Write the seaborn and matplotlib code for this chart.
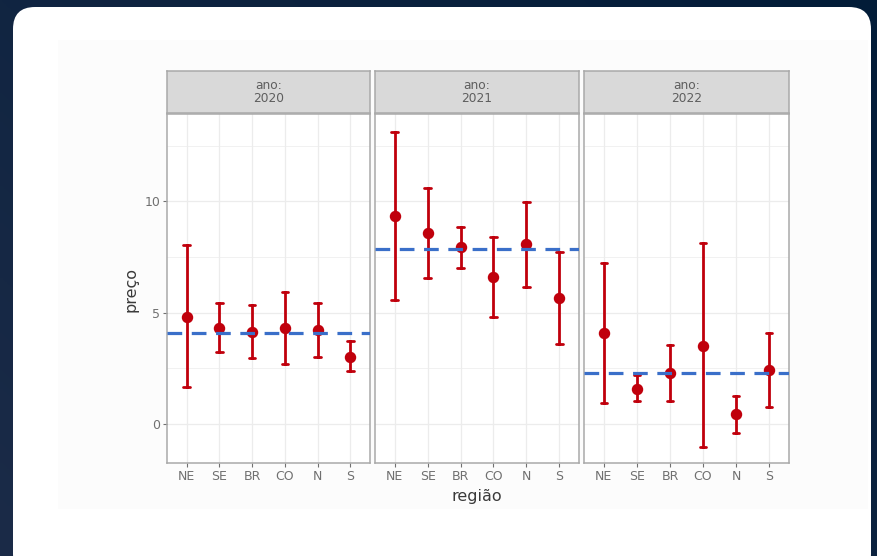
import numpy as np
import pandas as pd
import matplotlib
matplotlib.use("Agg")
import matplotlib.pyplot as plt
from matplotlib.patches import FancyBboxPatch, Rectangle
import seaborn as sns

# --- data -------------------------------------------------------------
regions = ["NE", "SE", "BR", "CO", "N", "S"]
years = [2020, 2021, 2022]

price_2020 = [4.82, 4.30, 4.15, 4.30, 4.22, 3.02]
low_2020 = [1.65, 3.25, 2.95, 2.69, 2.99, 2.40]
high_2020 = [8.05, 5.42, 5.34, 5.93, 5.45, 3.74]

price_2021 = [9.34, 8.56, 7.93, 6.59, 8.08, 5.64]
low_2021 = [5.57, 6.54, 6.99, 4.82, 6.14, 3.59]
high_2021 = [13.11, 10.58, 8.86, 8.41, 9.98, 7.74]

price_2022 = [4.07, 1.56, 2.27, 3.50, 0.45, 2.42]
low_2022 = [0.93, 1.05, 1.05, -1.05, -0.39, 0.75]
high_2022 = [7.21, 2.20, 3.55, 8.11, 1.26, 4.10]

national_price = [4.10, 7.87, 2.27]

yticks = [0, 5, 10]

# long table: lower / central / upper value per region and year
rows = []
for yr, p, lo, hi in zip(years,
                         [price_2020, price_2021, price_2022],
                         [low_2020, low_2021, low_2022],
                         [high_2020, high_2021, high_2022]):
    for r, pv, lv, hv in zip(regions, p, lo, hi):
        for v in (lv, pv, hv):
            rows.append({"ano": yr, "região": r, "preço": v})
df = pd.DataFrame(rows)

# --- style ------------------------------------------------------------
sns.set_style("white")
plt.rcParams["font.family"] = ["DejaVu Sans"]

W, H = 877, 556
fig = plt.figure(figsize=(W / 100, H / 100), dpi=100)


def frac(x0, y0, x1, y1):
    """pixel box (top-left origin) -> figure fraction rect"""
    return [x0 / W, 1 - y1 / H, (x1 - x0) / W, (y1 - y0) / H]


# dark backdrop with a soft gradient
bg = fig.add_axes([0, 0, 1, 1], zorder=-10)
grad = np.linspace(0, 1, 256)
gx, gy = np.meshgrid(grad, grad)
t = np.clip(0.6 * gx + 0.4 * (1 - gy), 0, 1)
c0 = np.array([0x1b, 0x2b, 0x48]) / 255
c1 = np.array([0x02, 0x1c, 0x38]) / 255
img = c0[None, None, :] * (1 - t[..., None]) + c1[None, None, :] * t[..., None]
bg.imshow(img, extent=[0, W, 0, H], aspect="auto", origin="upper")
bg.set_xlim(0, W)
bg.set_ylim(0, H)
bg.axis("off")

# white card
card = FancyBboxPatch((13, -20), 858, H - 7 + 20,
                      boxstyle="round,pad=0,rounding_size=22",
                      fc="white", ec="none", transform=bg.transData)
bg.add_patch(card)
bg.add_patch(Rectangle((58, H - 509), 810, 469, fc="#fcfcfc", ec="none"))

# --- panels -----------------------------------------------------------
panels_px = [(167, 370), (375, 579), (584, 789)]
plot_top, plot_bot = 114, 463
strip_top, strip_bot = 71, 113

red = "#c0000c"
blue = "#3a6fc9"
border = "#a9a9a9"
grid_c = "#ececec"
tick_c = "#707070"

for i, (yr, (x0, x1)) in enumerate(zip(years, panels_px)):
    ax = fig.add_axes(frac(x0, plot_top, x1, plot_bot))
    sub = df[df["ano"] == yr]
    sns.pointplot(data=sub, x="região", y="preço", order=regions,
                  estimator="median",
                  errorbar=lambda v: (v.min(), v.max()),
                  linestyle="none", marker="o", markersize=6.2,
                  color=red, capsize=0.2,
                  err_kws={"linewidth": 2.0}, ax=ax, zorder=3)
    ax.axhline(national_price[i], color=blue, lw=2.3,
               dashes=(4.6, 3.0), zorder=4)

    ax.set_yticks(yticks)
    ax.set_yticks([2.5, 7.5, 12.5], minor=True)
    ax.set_xticks(range(len(regions)))
    ax.set_xticklabels(regions)
    ax.set_xlim(-0.6, 5.6)
    ax.set_ylim(-1.75, 13.92)
    ax.grid(True, which="major", color=grid_c, lw=0.9)
    ax.grid(True, which="minor", axis="y", color=grid_c, lw=0.5)
    ax.set_axisbelow(True)
    for s in ax.spines.values():
        s.set_visible(True)
        s.set_color(border)
        s.set_linewidth(1.1)
    ax.tick_params(axis="both", which="major", length=3, width=0.8,
                   color=tick_c, labelcolor=tick_c, labelsize=9, pad=2,
                   bottom=True, left=(i == 0))
    ax.tick_params(which="minor", length=0)
    if i != 0:
        ax.set_yticklabels([])
    ax.set_xlabel("")
    ax.set_ylabel("")

    # facet strip
    sax = fig.add_axes(frac(x0, strip_top, x1, strip_bot))
    sax.set_facecolor("#d9d9d9")
    sax.set_xticks([])
    sax.set_yticks([])
    for s in sax.spines.values():
        s.set_visible(True)
        s.set_color(border)
        s.set_linewidth(1.1)
    sax.text(0.5, 0.5, f"ano:\n{yr}", ha="center", va="center",
             fontsize=8.8, color="#5e5e5e", linespacing=1.05,
             transform=sax.transAxes)

fig.text(477 / W, 1 - 497 / H, "região", ha="center", va="center",
         fontsize=11.5, color="#3a3a3a")
fig.text(131 / W, 1 - 289 / H, "preço", ha="center", va="center",
         rotation=90, fontsize=11.5, color="#3a3a3a")

fig.savefig("out.png", dpi=100)
